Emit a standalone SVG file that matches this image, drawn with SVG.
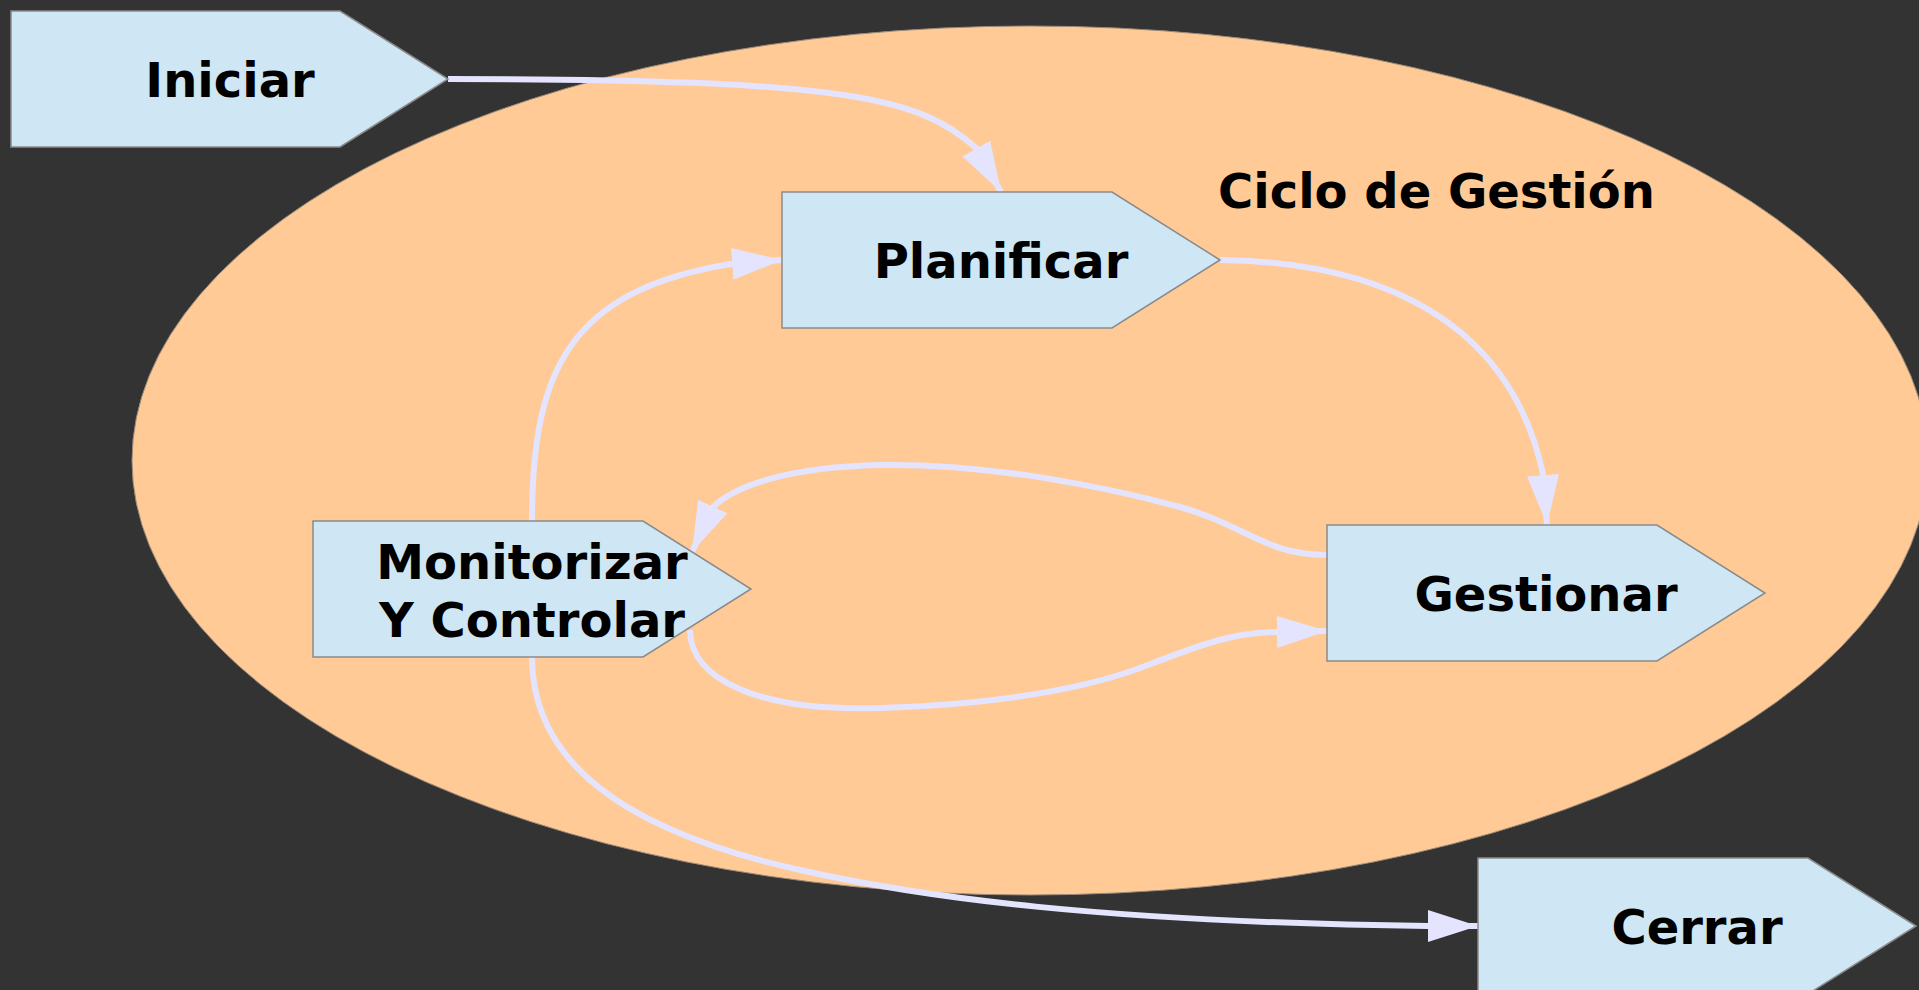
<svg xmlns="http://www.w3.org/2000/svg" width="1919" height="990" viewBox="0 0 1919 990">
<style>
.node{fill:#cfe6f4;stroke:#8a8a8a;stroke-width:1.5}
.lbl{font-family:"DejaVu Sans","Liberation Sans",sans-serif;font-weight:bold;font-size:48px;fill:#000;text-anchor:middle}
.edge{fill:none;stroke:#e4e4ff;stroke-width:6}
</style>
<defs>
<marker id="ah" markerUnits="userSpaceOnUse" markerWidth="52" markerHeight="34" refX="50" refY="16" orient="auto" viewBox="0 0 52 34">
<path d="M0,0 L50,16 L0,32 z" fill="#e4e4ff"/>
</marker>
</defs>
<rect width="1919" height="990" fill="#333333"/>
<g id="cluster">
<ellipse cx="1030" cy="460.5" rx="898" ry="434.5" fill="#ffca96" stroke="#9a8a7a" stroke-width="1"/>
<text x="1218" y="208" class="lbl" style="text-anchor:start">Ciclo de Gestión</text>
</g>
<g id="connectors">
<path class="edge" marker-end="url(#ah)" d="M448,79 C850,79 920,98 976,148 L1001,192"/>
<path class="edge" marker-end="url(#ah)" d="M1220,260 C1380,262 1510,320 1543,474 L1547,525"/>
<path class="edge" marker-end="url(#ah)" d="M1327,555 C1265,555 1245,525 1180,507 C1110,488 990,463 880,465 C790,467 735,485 712,508 L692,552"/>
<path class="edge" marker-end="url(#ah)" d="M690,630 C690,680 760,712 880,708 C1000,704 1080,690 1140,668 C1200,645 1230,633 1276,632 L1327,631"/>
<path class="edge" marker-end="url(#ah)" d="M532,521 C532,370 570,290 731,264 L782,260"/>
<path class="edge" marker-end="url(#ah)" d="M532,657 C532,760 620,830 800,870 C920,897 1100,922 1428,926 L1478,926"/>
</g>
<g id="iniciar">
<polygon class="node" points="11,11 340,11 448,79 340,147 11,147"/>
<text x="230" y="97" class="lbl">Iniciar</text>
</g>
<g id="planificar">
<polygon class="node" points="782,192 1112,192 1220,260 1112,328 782,328"/>
<text x="1001" y="278" class="lbl">Planificar</text>
</g>
<g id="gestionar">
<polygon class="node" points="1327,525 1657,525 1765,593 1657,661 1327,661"/>
<text x="1546" y="611" class="lbl">Gestionar</text>
</g>
<g id="monitorizar">
<polygon class="node" points="313,521 643,521 751,589 643,657 313,657"/>
<text x="532" y="579" class="lbl">Monitorizar</text>
<text x="532" y="637" class="lbl">Y Controlar</text>
</g>
<g id="cerrar">
<polygon class="node" points="1478,858 1808,858 1916,926 1808,994 1478,994"/>
<text x="1697" y="944" class="lbl">Cerrar</text>
</g>
</svg>
